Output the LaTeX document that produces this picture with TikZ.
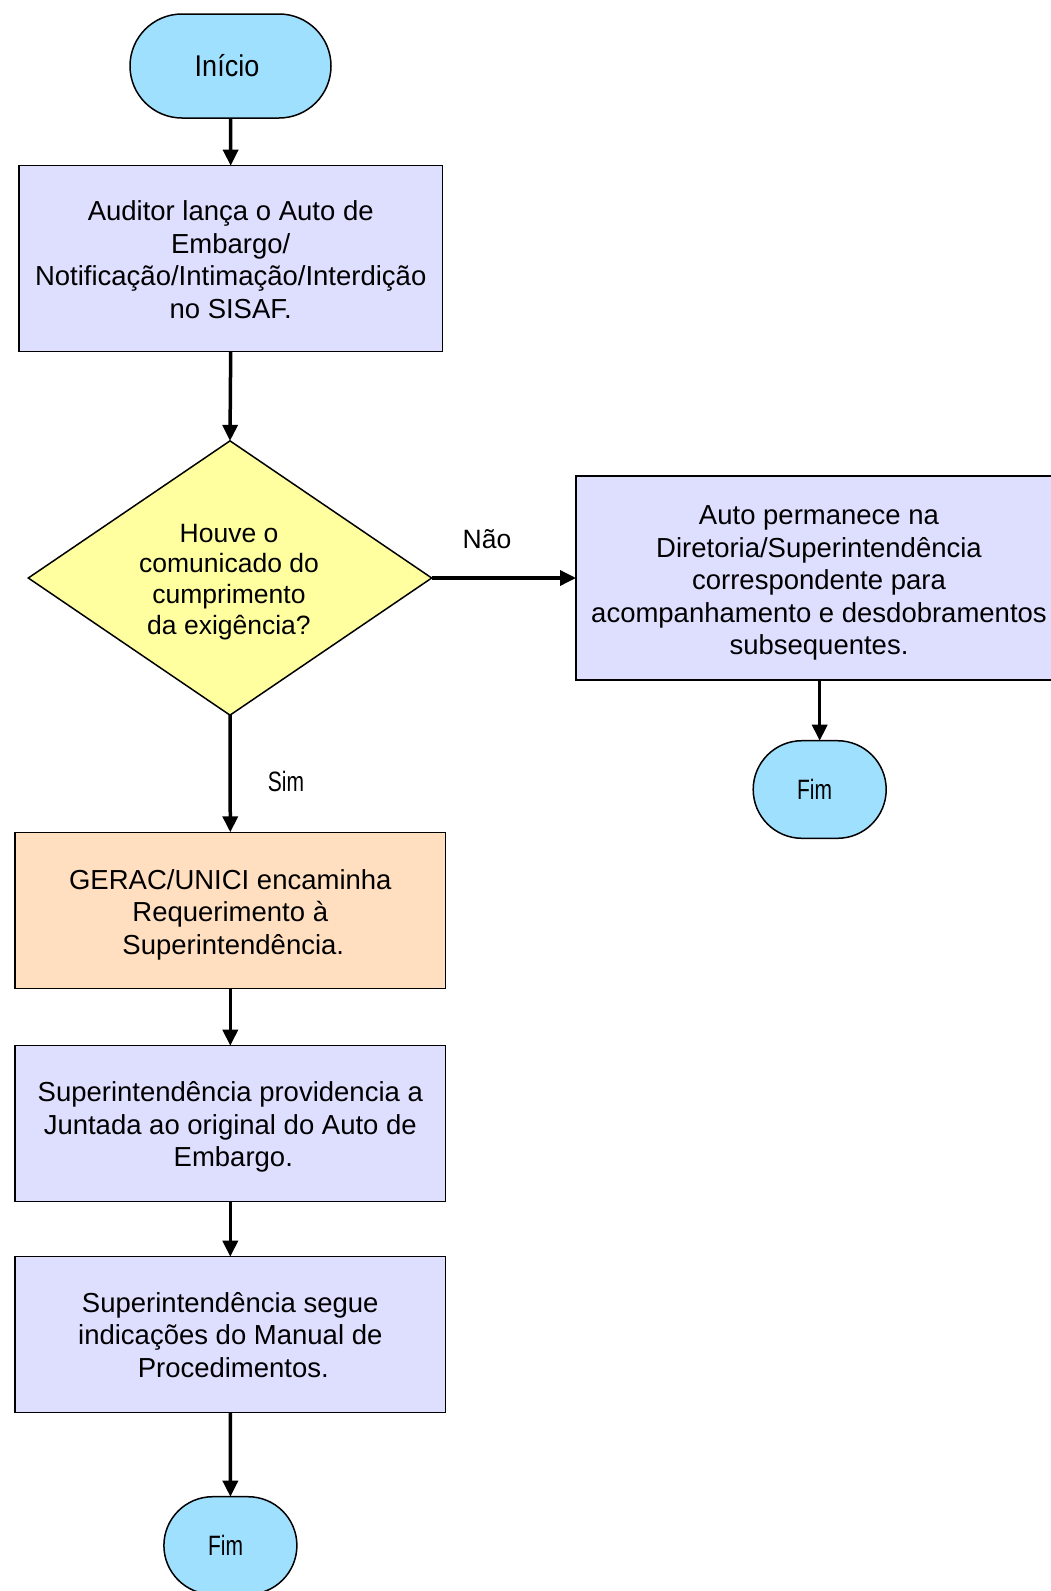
\documentclass[tikz,border=0pt]{standalone}
\usepackage{fontspec}
\setmainfont{Liberation Sans}
\usetikzlibrary{shapes.geometric,arrows.meta}
\definecolor{termblue}{RGB}{160,224,255}
\definecolor{boxlav}{RGB}{222,222,255}
\definecolor{boxpeach}{RGB}{255,223,192}
\definecolor{decyellow}{RGB}{255,255,160}
\begin{document}
\begin{tikzpicture}[x=1pt,y=-1pt,
  boxtext/.style={font=\fontsize{27.5pt}{32.5pt}\selectfont, align=center},
  procbox/.style={draw=black, line width=1.5pt, fill=boxlav, inner sep=0pt, outer sep=0pt},
  peachbox/.style={procbox, fill=boxpeach},
  termbig/.style={draw=black, line width=1.5pt, fill=termblue, rounded corners=52pt, inner sep=0pt, outer sep=0pt,
    minimum width=201pt, minimum height=104pt},
  termsmall/.style={draw=black, line width=1.5pt, fill=termblue, rounded corners=48.8pt, inner sep=0pt, outer sep=0pt,
    minimum width=133pt, minimum height=97.6pt},
  decision/.style={draw=black, line width=1.5pt, fill=decyellow, shape=diamond, inner sep=0pt, outer sep=0pt,
    minimum width=403.4pt, minimum height=274.3pt},
  lbl/.style={font=\fontsize{26.5pt}{30pt}\selectfont, inner sep=0pt},
  narrowtxt/.style={font=\fontsize{28pt}{32pt}\selectfont, inner sep=0pt},
  arr/.style={line width=3.5pt, -{Triangle[length=16pt,width=15pt]}}
]
\useasboundingbox (0,0) rectangle (1051,1591);
\clip (0,0) rectangle (1051,1591);

% start
\node[termbig] (ini) at (230.5,66) {};
\node[font=\fontsize{30pt}{34pt}\selectfont] (initxt) at (227,66) {\scalebox{0.9}[1]{Início}};

% box 1
\node[procbox, minimum width=423.3pt, minimum height=186pt] (b1) at (230.7,258.7) {};
\node[boxtext] (b1txt) at (230.7,259.5)
  {Auditor lança o Auto de\\Embargo/\\Notificação/Intimação/Interdição\\no SISAF.};

% decision
\node[decision] (dec) at (230,578) {};
\node[font=\fontsize{26.5pt}{30.8pt}\selectfont, align=center] (dectxt) at (229,582)
  {Houve o\\comunicado do\\cumprimento\\da exigência?};

% "no" branch
\node[procbox, minimum width=486pt, minimum height=204pt] (bno) at (819,578) {};
\node[boxtext] (bnotxt) at (819,583)
  {Auto permanece na\\Diretoria/Superintendência\\correspondente para\\acompanhamento e desdobramentos\\subsequentes.};

\node[termsmall] (fim1) at (819.7,789.5) {};
\node[narrowtxt] (fim1txt) at (814.5,789.5) {\scalebox{0.75}[1]{Fim}};

% "yes" branch
\node[peachbox, minimum width=430.7pt, minimum height=156pt] (b2) at (230.3,910.3) {};
\node[boxtext] (b2txt) at (230.3,914.5)
  {GERAC/UNICI encaminha\\Requerimento à\\\hspace*{6pt}Superintendência.};

\node[procbox, minimum width=430.7pt, minimum height=156pt] (b3) at (230.3,1123.7) {};
\node[boxtext] (b3txt) at (230.3,1127)
  {Superintendência providencia a\\Juntada ao original do Auto de\\\hspace*{6pt}Embargo.};

\node[procbox, minimum width=430.7pt, minimum height=156pt] (b4) at (230.3,1334.7) {};
\node[boxtext] (b4txt) at (230.3,1335)
  {Superintendência segue\\indicações do Manual de\\\hspace*{6pt}Procedimentos.};

\node[termsmall] (fim2) at (230.4,1545.5) {};
\node[narrowtxt] (fim2txt) at (225.5,1545.5) {\scalebox{0.75}[1]{Fim}};

% labels
\node[lbl] (lnao) at (487,539) {Não};
\node[narrowtxt] (lsim) at (286,781) {\scalebox{0.75}[1]{Sim}};

% connectors
\draw[arr] (ini.south) -- (b1.north);
\draw[arr] (b1.south) -- (dec.north);
\draw[arr] (dec.east) -- (bno.west);
\draw[arr] (bno.south -| fim1.north) -- (fim1.north);
\draw[arr] (dec.south) -- (b2.north);
\draw[arr] (b2.south) -- (b3.north);
\draw[arr] (b3.south) -- (b4.north);
\draw[arr] (b4.south) -- (fim2.north);
\end{tikzpicture}
\end{document}
